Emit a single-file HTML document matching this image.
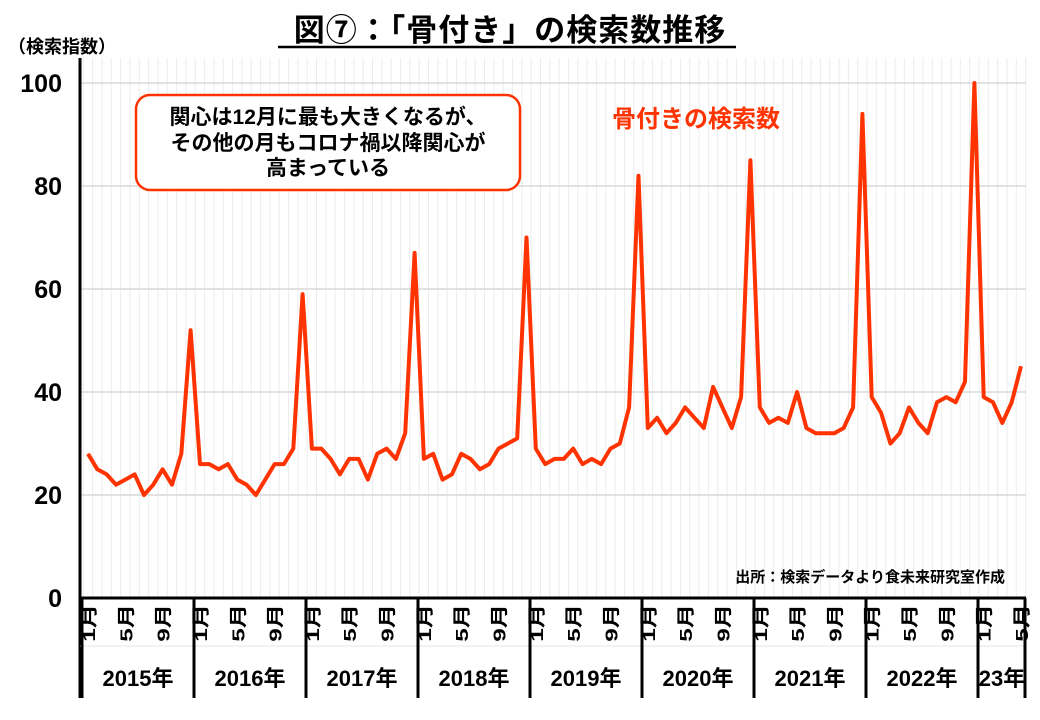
<!DOCTYPE html>
<html><head><meta charset="utf-8"><style>
body{margin:0;background:#fff;}
svg{display:block;font-family:"Liberation Sans","Noto Sans CJK JP",sans-serif;}
</style></head><body>
<svg id="s" width="1040" height="720" viewBox="0 0 1040 720" xmlns="http://www.w3.org/2000/svg">
<rect width="1040" height="720" fill="#fff"/>
<g id="grid"></g>
<text x="510" y="41" text-anchor="middle" font-size="31" font-weight="bold" letter-spacing="1" fill="#000">図⑦：「骨付き」の検索数推移</text>
<line x1="278" y1="47" x2="736" y2="47" stroke="#000" stroke-width="2.5"/>
<text x="8" y="53" font-size="18" font-weight="bold">（検索指数）</text>
<g font-size="25" font-weight="bold" text-anchor="end">
<text x="62" y="92">100</text><text x="62" y="195">80</text><text x="62" y="298">60</text><text x="62" y="401">40</text><text x="62" y="504">20</text><text x="62" y="607">0</text>
</g>
<line x1="80" y1="58" x2="80" y2="698" stroke="#000" stroke-width="3"/>
<line x1="80" y1="598" x2="1026" y2="598" stroke="#000" stroke-width="3"/>
<line x1="80" y1="646" x2="1026" y2="646" stroke="#e6e6e6" stroke-width="1"/>
<g id="xl"></g>
<polyline id="pl" fill="none" stroke="#ff3300" stroke-width="4" stroke-linejoin="round"/>
<rect x="136" y="95" width="384" height="95" rx="14" fill="#fff" stroke="#ff3300" stroke-width="2.5"/>
<g font-size="21" font-weight="bold" text-anchor="middle">
<text x="328" y="124">関心は12月に最も大きくなるが、</text>
<text x="328" y="150">その他の月もコロナ禍以降関心が</text>
<text x="328" y="175">高まっている</text>
</g>
<text x="696" y="127" text-anchor="middle" font-size="24" font-weight="bold" fill="#ff3300">骨付きの検索数</text>
<text x="1005" y="582" text-anchor="end" font-size="15" font-weight="bold">出所：検索データより食未来研究室作成</text>
</svg>
<script>
var d=[28,25,24,22,23,24,20,22,25,22,28,52,26,26,25,26,23,22,20,23,26,26,29,59,29,29,27,24,27,27,23,28,29,27,32,67,27,28,23,24,28,27,25,26,29,30,31,70,29,26,27,27,29,26,27,26,29,30,37,82,33,35,32,34,37,35,33,41,37,33,39,85,37,34,35,34,40,33,32,32,32,33,37,94,39,36,30,32,37,34,32,38,39,38,42,100,39,38,34,38,45];
var ns="http://www.w3.org/2000/svg";
function X(i){return 88+9.33*i;}
function Y(v){return 598-5.15*v;}
function el(t,a,p,txt){var e=document.createElementNS(ns,t);for(var k in a)e.setAttribute(k,a[k]);if(txt)e.textContent=txt;p.appendChild(e);return e;}
var g=document.getElementById('grid');
for(var i=0;i<=101;i++){var x=83.3+9.33*i;if(x>1026)break;el('line',{x1:x,y1:58,x2:x,y2:598,stroke:'#ececec','stroke-width':1},g);}
[20,40,60,80,100].forEach(function(v){el('line',{x1:80,y1:Y(v),x2:1026,y2:Y(v),stroke:'#d9d9d9','stroke-width':1.5},g);});
document.getElementById('pl').setAttribute('points',d.map(function(v,i){return X(i).toFixed(1)+','+Y(v).toFixed(1);}).join(' '));
var xl=document.getElementById('xl');
for(var k=0;k<=8;k++){var x=82+112*k;el('line',{x1:x,y1:598,x2:x,y2:698,stroke:'#000','stroke-width':3},xl);}
el('line',{x1:1025,y1:598,x2:1025,y2:698,stroke:'#000','stroke-width':3},xl);
for(var i=0;i<101;i++){var m=i%12;if(m==0||m==4||m==8){var x=X(i);el('text',{x:0,y:0,'text-anchor':'end',transform:'translate('+(x+7)+',604) rotate(-90) scale(1.35,1)','font-size':18,'font-weight':'bold'},xl,(m+1)+'月');}}
var yrs=['2015年','2016年','2017年','2018年','2019年','2020年','2021年','2022年'];
yrs.forEach(function(t,k){el('text',{x:138+112*k,y:686,'text-anchor':'middle','font-size':22,'font-weight':'bold'},xl,t);});
el('text',{x:1002,y:686,'text-anchor':'middle','font-size':22,'font-weight':'bold'},xl,'23年');
</script>
</body></html>
